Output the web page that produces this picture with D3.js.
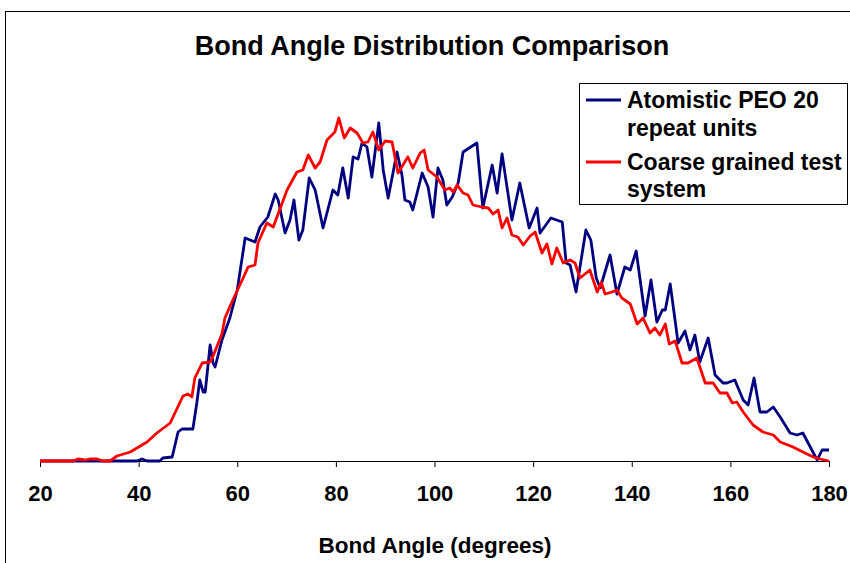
<!DOCTYPE html>
<html>
<head>
<meta charset="utf-8">

<style>

    body {
      margin: 0;
      background: white;
    }

    text {
      font-family: "Liberation Sans", Arial, sans-serif;
      font-weight: bold;
      fill: black;
    }

    path.series {
      fill: none;
      stroke-width: 2.8px;
      stroke-linejoin: round;
    }

</style>

<script src="https://d3js.org/d3.v7.min.js"></script>

</head>
<body>

<script>

    // values, [bond angle (deg), relative frequency]
    var atomistic = [
      [20,0],[39.7,0],[40.7,0.2],[41.7,0],[44.3,0],[44.9,0.3],[46.8,0.4],[48.0,2.9],[48.8,3.2],[51.0,3.2],
      [51.8,5.8],[52.4,8.1],[53.1,6.9],[53.5,6.9],[54.5,11.6],[55.1,9.8],[55.5,9.4],[56.9,12.1],[58.5,14.3],[60.0,17.1],
      [61.6,22.3],[63.6,21.9],[64.6,23.4],[66.2,24.4],[67.7,26.7],[68.3,26.1],[69.7,22.8],[70.7,24.1],[71.5,26.1],[72.5,22.1],
      [73.3,23.1],[74.6,28.3],[75.8,27.1],[77.4,23.3],[79.4,27.1],[80.4,26.6],[81.4,29.3],[82.5,26.3],[83.5,30.4],[84.5,30.2],
      [85.3,31.8],[86.3,31.4],[87.3,28.4],[88.7,33.8],[89.6,29.1],[90.6,26.3],[92.4,30.9],[93.4,28.6],[94.0,26.1],[95.0,25.9],
      [95.6,25.1],[97.5,28.8],[98.7,27.4],[99.7,24.4],[100.7,29.3],[101.7,28.1],[102.5,25.6],[103.6,26.4],[104.8,27.8],[105.8,30.9],
      [108.6,31.8],[109.8,25.3],[111.7,29.6],[112.7,26.8],[113.7,30.7],[115.7,24.1],[117.3,27.8],[119.2,23.3],[120.8,25.3],[121.4,22.8],
      [123.6,24.3],[125.9,23.9],[126.7,19.8],[127.5,19.6],[128.7,16.9],[130.7,23.1],[131.7,22.1],[132.8,18.3],[133.6,17.3],[135.6,20.6],
      [137.0,16.7],[138.6,19.4],[139.7,19.1],[140.9,21.0],[142.7,14.5],[143.9,18.1],[145.1,13.9],[146.2,15.1],[146.8,15.1],[147.8,17.7],
      [149.4,11.8],[150.8,13.0],[151.8,11.1],[152.8,12.6],[153.8,9.9],[155.5,12.3],[156.9,8.6],[158.5,7.8],[159.3,7.8],[160.9,8.1],
      [162.6,6.1],[163.6,5.6],[164.8,8.3],[166.0,4.9],[167.4,4.9],[168.7,5.4],[170.1,4.4],[172.1,2.8],[173.5,2.6],[174.7,2.8],
      [176.2,1.4],[177.6,0.1],[178.6,1.1],[180,1.1]
    ];

    var coarse = [
      [20,0],[26.7,0],[27.7,0.2],[29.1,0.1],[30.1,0.2],[31.6,0.2],[32.8,0],[34.2,0],[35.6,0.5],[38.3,0.9],
      [41.7,1.9],[43.7,2.8],[46.4,3.8],[49.0,6.5],[50.0,6.7],[50.8,6.4],[51.4,8.3],[52.9,9.8],[54.5,9.9],[55.1,10.5],
      [56.9,12.7],[57.5,14.3],[59.1,16.1],[61.2,18.3],[62.2,19.4],[63.6,19.6],[64.2,21.8],[66.0,23.8],[67.3,23.4],[70.1,27.1],
      [72.1,28.9],[73.3,29.1],[74.4,30.6],[75.8,29.3],[76.8,29.9],[78.2,32.1],[79.8,32.9],[80.6,34.3],[81.7,32.3],[82.9,33.3],
      [84.3,32.8],[85.5,31.8],[86.5,31.9],[87.5,32.9],[88.7,31.1],[90.0,32.0],[91.4,31.9],[92.6,28.8],[93.6,29.6],[94.6,30.4],
      [95.6,29.3],[97.1,30.8],[97.9,31.1],[98.7,29.1],[100.5,28.4],[102.1,27.1],[103.1,27.3],[103.8,26.9],[104.6,27.6],[105.8,26.8],
      [106.8,26.6],[107.8,25.6],[109.6,25.4],[110.9,25.3],[111.9,24.7],[112.9,25.1],[113.7,23.3],[114.7,24.3],[115.7,22.6],[116.9,22.4],
      [118.0,21.6],[119.4,22.5],[120.4,22.9],[121.8,20.8],[122.8,21.7],[123.8,19.7],[124.8,21.3],[126.1,19.8],[127.5,20.1],[128.5,19.8],
      [129.5,18.3],[131.5,19.1],[133.0,16.9],[133.8,17.9],[134.6,16.7],[136.0,16.9],[137.0,17.1],[138.0,16.3],[139.7,15.7],[141.1,13.7],
      [142.3,14.3],[143.7,12.8],[144.7,13.3],[145.7,12.6],[146.8,13.7],[147.6,11.7],[148.8,12.0],[150.2,9.8],[151.4,9.8],[153.2,10.3],
      [154.9,7.8],[156.5,7.8],[157.9,6.8],[159.3,6.8],[160.4,5.8],[161.3,5.9],[162.6,4.9],[164.6,3.6],[166.6,2.9],[168.7,2.6],
      [170.1,1.9],[172.7,1.4],[174.7,0.9],[176.8,0.4],[178.2,0.2],[180,0]
    ];

    var xTicks = [20, 40, 60, 80, 100, 120, 140, 160, 180];
    var seriesNames = [["Atomistic PEO 20", "repeat units"], ["Coarse grained test", "system"]];
    var seriesColors = ["#000080", "#ff0000"];

    var width = 850, height = 563;

    var x = d3.scaleLinear().domain([20, 180]).range([40, 829]);
    var y = d3.scaleLinear().domain([0, 35]).range([461, 111]);

    var svg = d3.select("body").append("svg")
        .attr("width", width)
        .attr("height", height);

    // chart area border (runs off the right and bottom edge)
    svg.append("rect")
        .attr("x", 5.5).attr("y", 11.5)
        .attr("width", 900).attr("height", 600)
        .attr("fill", "white")
        .attr("stroke", "black")
        .attr("stroke-width", 1);

    svg.append("text")
        .attr("x", 432).attr("y", 55)
        .attr("text-anchor", "middle")
        .style("font-size", "27px")
        .text("Bond Angle Distribution Comparison");

    var line = d3.line()
        .x(function(d) { return x(d[0]); })
        .y(function(d) { return y(d[1]); });

    // x axis
    var xAxis = svg.append("g")
        .attr("transform", "translate(0," + y(0) + ")")
        .call(d3.axisBottom(x).tickValues(xTicks).tickSize(6).tickSizeOuter(0).tickPadding(18));
    xAxis.select(".domain").attr("stroke", "black");
    xAxis.selectAll(".tick line").attr("stroke", "black");
    xAxis.selectAll(".tick text")
        .style("font-size", "22px")
        .style("font-family", "\"Liberation Sans\", Arial, sans-serif")
        .style("font-weight", "bold");

    svg.append("text")
        .attr("x", 435).attr("y", 553)
        .attr("text-anchor", "middle")
        .style("font-size", "22.5px")
        .text("Bond Angle (degrees)");

    // plot lines, atomistic under coarse grained
    svg.selectAll("path.series")
      .data([atomistic, coarse])
      .enter().append("path")
      .attr("class", "series")
      .attr("d", line)
      .style("stroke", function(d, i) { return seriesColors[i]; });

    // legend
    var legend = svg.append("g");
    legend.append("rect")
        .attr("x", 579.5).attr("y", 83.5)
        .attr("width", 268).attr("height", 121)
        .attr("fill", "white")
        .attr("stroke", "black");

    var legendRows = [[100, 108, 136], [162, 170, 197]];

    seriesNames.forEach(function(names, i) {
        legend.append("line")
            .attr("x1", 586).attr("x2", 621)
            .attr("y1", legendRows[i][0]).attr("y2", legendRows[i][0])
            .attr("stroke", seriesColors[i])
            .attr("stroke-width", 2.8);
        legend.append("text")
            .attr("x", 627).attr("y", legendRows[i][1])
            .style("font-size", "23px")
            .text(names[0]);
        legend.append("text")
            .attr("x", 627).attr("y", legendRows[i][2])
            .style("font-size", "23px")
            .text(names[1]);
    });

</script>

</body>
</html>
